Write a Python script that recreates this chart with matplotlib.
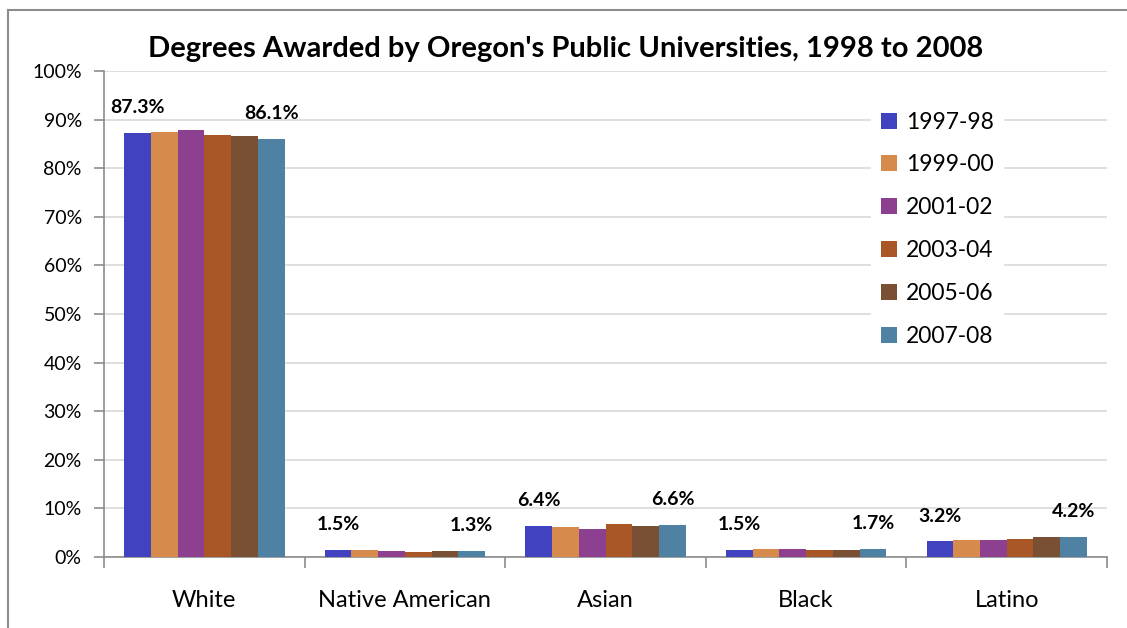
import numpy as np
import matplotlib.pyplot as plt
from matplotlib.lines import Line2D
from matplotlib.ticker import MultipleLocator, FuncFormatter

plt.rcParams['font.family'] = ['Lato', 'DejaVu Sans']

groups = ['White', 'Native American', 'Asian', 'Black', 'Latino']
years = ['1997-98', '1999-00', '2001-02', '2003-04', '2005-06', '2007-08']
colors = ['#4142C0', '#D68A4C', '#8C408F', '#AA5727', '#7A5034', '#4F82A2']

# percent of degrees, one list per year
y1997 = [87.3, 1.5, 6.4, 1.5, 3.2]
y1999 = [87.5, 1.5, 6.1, 1.6, 3.4]
y2001 = [87.9, 1.3, 5.7, 1.6, 3.5]
y2003 = [86.8, 1.1, 6.7, 1.4, 3.8]
y2005 = [86.6, 1.3, 6.3, 1.4, 4.1]
y2007 = [86.1, 1.3, 6.6, 1.7, 4.2]
series = [y1997, y1999, y2001, y2003, y2005, y2007]

fig = plt.figure(figsize=(11.27, 6.28), dpi=100)
ax = fig.add_axes([0.0923, 0.1131, 0.8900, 0.7739])

# outer chart frame (left and top only visible)
fig.add_artist(Line2D([8/1127, 8/1127], [0, 1 - 10/628], transform=fig.transFigure,
                      color='#8c8c8c', lw=1.5))
fig.add_artist(Line2D([8/1127, 1], [1 - 10/628, 1 - 10/628], transform=fig.transFigure,
                      color='#8c8c8c', lw=1.5))

x = np.arange(len(groups))
n = len(series)
w = 0.8 / n
for i, (vals, c, lab) in enumerate(zip(series, colors, years)):
    pos = x - 0.4 + w * (i + 0.5)
    ax.bar(pos, vals, width=w, color=c, label=lab, zorder=3)
    if i in (0, n - 1):
        for px, v in zip(pos, vals):
            ax.annotate(f'{v:.1f}%', (px, v), xytext=(0, 18), textcoords='offset points',
                        ha='center', va='center', fontsize=14, fontweight='bold')

ax.set_xlim(-0.5, len(groups) - 0.5)
ax.set_ylim(0, 100)
ax.yaxis.set_major_locator(MultipleLocator(10))
ax.yaxis.set_major_formatter(FuncFormatter(lambda v, p: f'{v:.0f}%'))
ax.grid(axis='y', color='#d9d9d9', lw=1.2, zorder=0)
ax.set_axisbelow(True)

ax.set_xticks(x)
ax.set_xticklabels(groups, fontsize=17)
ax.tick_params(axis='x', length=0, pad=24)
ax.set_xticks(np.arange(-0.5, len(groups)), minor=True)
ax.tick_params(axis='x', which='minor', length=8, width=1.2, color='#8c8c8c')
ax.tick_params(axis='y', labelsize=14, length=7, width=1.2, color='#8c8c8c', pad=9)

for s in ['top', 'right']:
    ax.spines[s].set_visible(False)
for s in ['left', 'bottom']:
    ax.spines[s].set_color('#8c8c8c')
    ax.spines[s].set_linewidth(1.2)

ax.set_title("Degrees Awarded by Oregon's Public Universities, 1998 to 2008",
             fontsize=21, fontweight='bold', pad=10, x=0.4605)

leg = ax.legend(loc='upper left', bbox_to_anchor=(0.765, 0.935), frameon=True,
                fontsize=16.5, handlelength=0.7, handleheight=0.7, handletextpad=0.4,
                labelspacing=0.95, borderpad=0.4, borderaxespad=0)
leg.get_frame().set_edgecolor('white')
leg.get_frame().set_facecolor('white')
leg.get_frame().set_alpha(1)
leg.set_zorder(5)

fig.savefig('out.png', dpi=100)
